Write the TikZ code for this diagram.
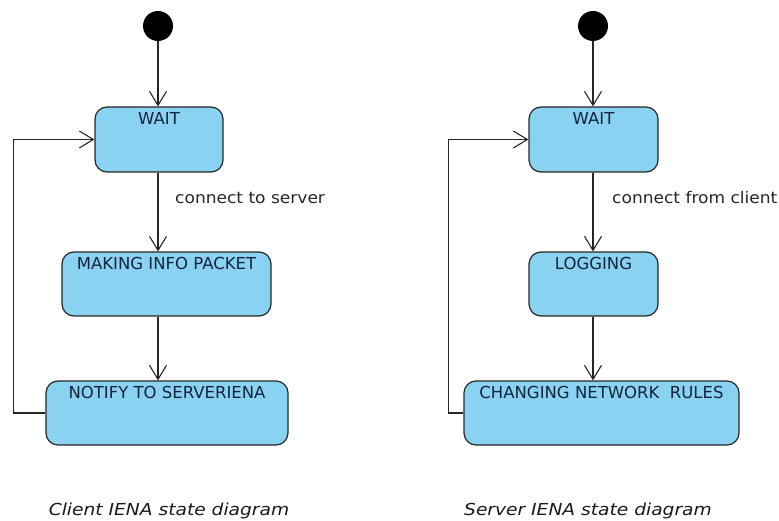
\documentclass[tikz,border=0pt]{standalone}
\usepackage{fontspec}
\setmainfont{DejaVu Sans}
\newfontfamily\labfont[FakeStretch=1.065]{DejaVu Sans}
\newfontfamily\capfont[FakeStretch=1.13]{DejaVu Sans}
\usetikzlibrary{arrows.meta}
\definecolor{statefill}{RGB}{138,210,242}
\definecolor{statetext}{RGB}{20,35,60}
\tikzset{
  stbox/.style={draw=black!85, line width=1.2pt, fill=statefill, rounded corners=12pt, inner sep=0pt},
  sttext/.style={text=statetext, font=\fontsize{16.5}{18}\selectfont, inner sep=0pt, anchor=north},
  init/.style={circle, fill=black, minimum size=30pt, inner sep=0pt},
  arr/.style={line width=1.1pt, draw=black!85, -{Straight Barb[length=14pt,width=17pt,line width=1.1pt]}},
  lbl/.style={font=\labfont\fontsize{16}{18}\selectfont, text=black!85, anchor=base west, inner sep=0pt},
  captext/.style={font=\capfont\fontsize{16.5}{18}\selectfont\itshape, text=black!90, anchor=base, inner sep=0pt}
}
\begin{document}
\begin{tikzpicture}[x=1pt,y=-1pt]
\useasboundingbox (0,0) rectangle (779,521);
% client
\node[init] (i1) at (158,26) {};
\node[stbox, minimum width=128pt, minimum height=65pt] (w1) at (159,139.5) {};
\node[sttext] at ([yshift=-6pt]w1.north) {WAIT};
\node[stbox, minimum width=209pt, minimum height=64pt] (m1) at (166.5,284) {};
\node[sttext] at ([yshift=-6pt]m1.north) {MAKING INFO PACKET};
\node[stbox, minimum width=242pt, minimum height=64pt] (n1) at (167,413) {};
\node[sttext] at ([yshift=-6pt]n1.north) {NOTIFY TO SERVERIENA};
\draw[arr] (i1) -- (i1 |- w1.north);
\draw[arr] (w1.south -| i1) -- (m1.north -| i1);
\draw[arr] (m1.south -| i1) -- (n1.north -| i1);
\draw[arr] (n1.west) -- ++(-32,0) |- (w1.west);
\node[lbl] at (175,204) {connect to server};
\node[captext] at (169,515.5) {Client IENA state diagram};
% server
\node[init] (i2) at (593,26) {};
\node[stbox, minimum width=129pt, minimum height=65pt] (w2) at (593.5,139.5) {};
\node[sttext] at ([yshift=-6pt]w2.north) {WAIT};
\node[stbox, minimum width=129pt, minimum height=64pt] (l2) at (593.5,284) {};
\node[sttext] at ([yshift=-6pt]l2.north) {LOGGING};
\node[stbox, minimum width=275pt, minimum height=64pt] (c2) at (601.5,413) {};
\node[sttext] at ([yshift=-6pt]c2.north) {CHANGING NETWORK~~RULES};
\draw[arr] (i2) -- (i2 |- w2.north);
\draw[arr] (w2.south -| i2) -- (l2.north -| i2);
\draw[arr] (l2.south -| i2) -- (c2.north -| i2);
\draw[arr] (c2.west) -- ++(-15,0) |- (w2.west);
\node[lbl] at (612,204) {connect from client};
\node[captext] at (588,515.5) {Server IENA state diagram};
\end{tikzpicture}
\end{document}
